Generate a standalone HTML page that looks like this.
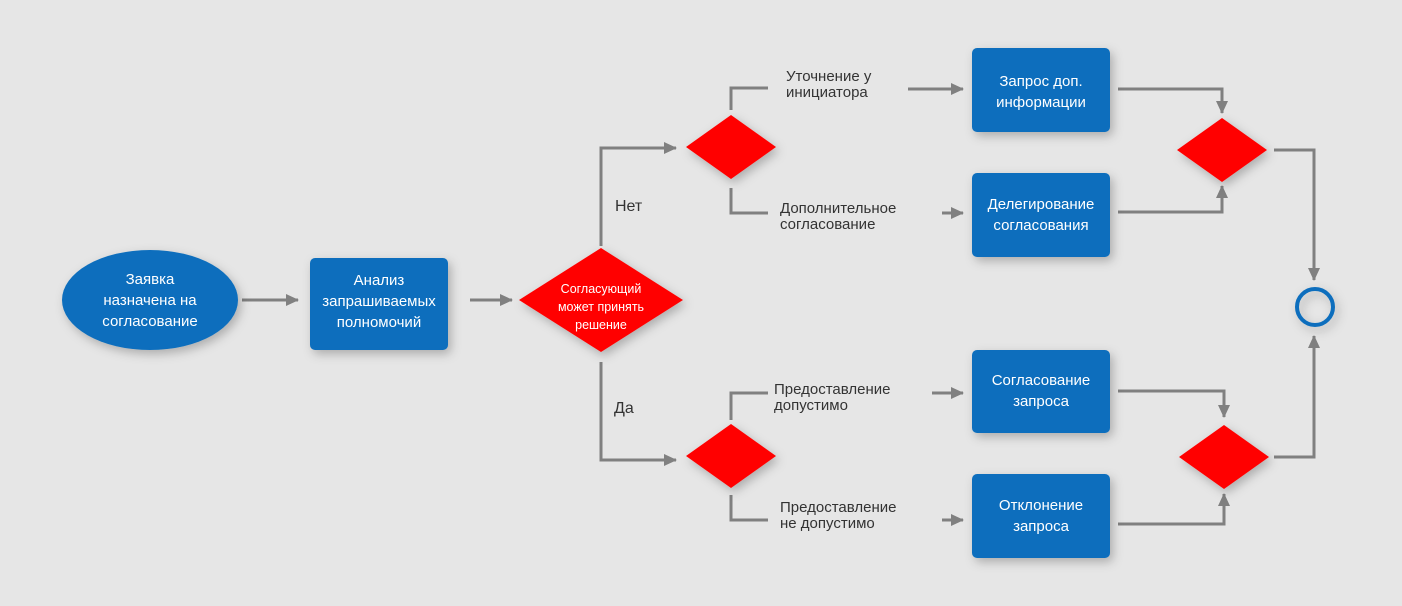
<!DOCTYPE html>
<html><head><meta charset="utf-8"><style>
body{margin:0;background:#e6e6e6}
svg{display:block}
text{font-family:"Liberation Sans",sans-serif}
</style></head><body>
<svg width="1402" height="606" viewBox="0 0 1402 606">
<defs>
<filter id="sh" x="-30%" y="-30%" width="160%" height="160%"><feDropShadow dx="3" dy="4" stdDeviation="5" flood-color="#000" flood-opacity="0.25"/></filter>
<marker id="a" markerWidth="14" markerHeight="14" refX="12" refY="7" orient="auto" markerUnits="userSpaceOnUse"><path d="M0,1 L13,7 L0,13 z" fill="#808080"/></marker>
</defs>
<rect width="1402" height="606" fill="#e6e6e6"/>
<g fill="none" stroke="#808080" stroke-width="3" marker-end="url(#a)">
<path d="M242,300 H298"/>
<path d="M470,300 H512"/>
<path d="M601,246 V148 H676"/>
<path d="M601,362 V460 H676"/>
<path d="M908,89 H963"/>
<path d="M942,213 H963"/>
<path d="M932,393 H963"/>
<path d="M942,520 H963"/>
<path d="M1118,89 H1222 V113"/>
<path d="M1118,212 H1222 V186"/>
<path d="M1118,391 H1224 V417"/>
<path d="M1118,524 H1224 V494"/>
<path d="M1274,150 H1314 V280"/>
<path d="M1274,457 H1314 V336"/>
</g>
<g fill="none" stroke="#808080" stroke-width="3">
<path d="M731,110 V88 H768"/>
<path d="M731,188 V213 H768"/>
<path d="M731,420 V393 H768"/>
<path d="M731,495 V520 H768"/>
</g>
<g filter="url(#sh)">
<ellipse cx="150" cy="300" rx="88" ry="50" fill="#0a6ebd"/>
<rect x="310" y="258" width="138" height="92" rx="5" fill="#0a6ebd"/>
<rect x="972" y="48" width="138" height="84" rx="5" fill="#0a6ebd"/>
<rect x="972" y="173" width="138" height="84" rx="5" fill="#0a6ebd"/>
<rect x="972" y="350" width="138" height="83" rx="5" fill="#0a6ebd"/>
<rect x="972" y="474" width="138" height="84" rx="5" fill="#0a6ebd"/>
<path d="M601,248 L683,300 L601,352 L519,300 z" fill="#ff0000"/>
<path d="M731,115 L776,147 L731,179 L686,147 z" fill="#ff0000"/>
<path d="M731,424 L776,456 L731,488 L686,456 z" fill="#ff0000"/>
<path d="M1222,118 L1267,150 L1222,182 L1177,150 z" fill="#ff0000"/>
<path d="M1224,425 L1269,457 L1224,489 L1179,457 z" fill="#ff0000"/>
<circle cx="1315" cy="307" r="18" fill="none" stroke="#0a6ebd" stroke-width="4"/>
</g>
<g fill="#fff" font-size="15" text-anchor="middle">
<text x="150" y="284">Заявка</text><text x="150" y="305">назначена на</text><text x="150" y="326">согласование</text>
<text x="379" y="285">Анализ</text><text x="379" y="306">запрашиваемых</text><text x="379" y="327">полномочий</text>
<text x="1041" y="86">Запрос доп.</text><text x="1041" y="107">информации</text>
<text x="1041" y="209">Делегирование</text><text x="1041" y="230">согласования</text>
<text x="1041" y="385">Согласование</text><text x="1041" y="406">запроса</text>
<text x="1041" y="510">Отклонение</text><text x="1041" y="531">запроса</text>
<g font-size="12.5"><text x="601" y="293">Согласующий</text><text x="601" y="311">может принять</text><text x="601" y="329">решение</text></g>
</g>
<g fill="#333" font-size="15">
<text x="786" y="81">Уточнение у</text><text x="786" y="97">инициатора</text>
<text x="780" y="213">Дополнительное</text><text x="780" y="229">согласование</text>
<text x="774" y="394">Предоставление</text><text x="774" y="410">допустимо</text>
<text x="780" y="512">Предоставление</text><text x="780" y="528">не допустимо</text>
<text x="615" y="211" font-size="16">Нет</text>
<text x="614" y="413" font-size="16">Да</text>
</g>
</svg>
</body></html>
